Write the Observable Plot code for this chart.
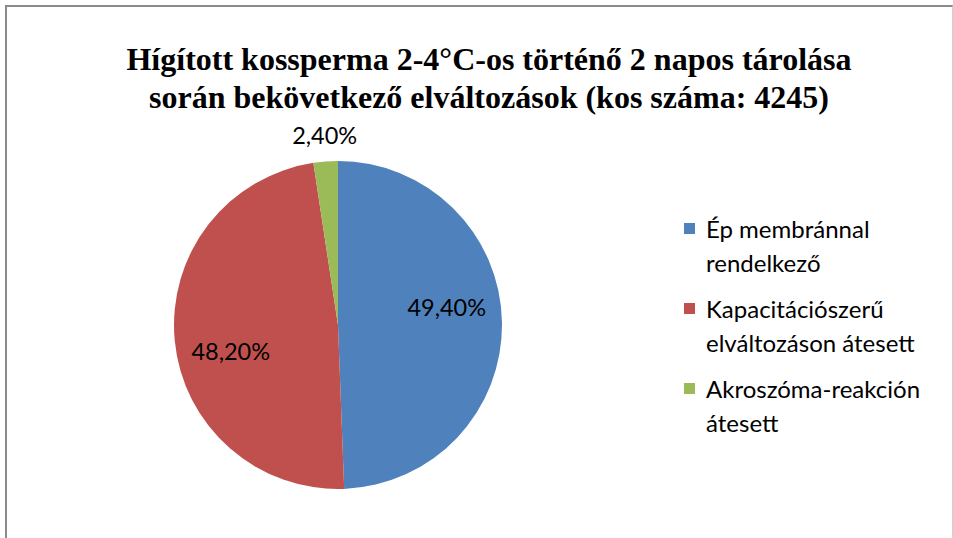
<!DOCTYPE html>
<html><head><meta charset="utf-8">
<script src="https://cdn.jsdelivr.net/npm/d3@7"></script>
<script src="https://cdn.jsdelivr.net/npm/@observablehq/plot@0.6"></script>
<style>
body{margin:0;background:#fff;}
#wrap{position:relative;width:953px;height:538px;overflow:hidden;background:#fff;}
#frame{position:absolute;left:5px;top:5px;width:948px;height:560px;border-left:2px solid #8a8a8a;border-top:2px solid #8a8a8a;border-right:1px solid #d0d0d0;box-sizing:border-box;}
#chart{position:absolute;left:0;top:0;}
#title{position:absolute;left:0;width:978px;top:40px;text-align:center;font-family:"Liberation Serif",serif;font-weight:bold;font-size:32px;line-height:38px;color:#000;}
#legend{position:absolute;left:684px;top:212px;font-family:Lato,sans-serif;font-size:24px;color:#000;}
.item{position:relative;padding-left:22px;line-height:34px;margin-bottom:12px;}
.sw{position:absolute;left:0;top:11px;width:11px;height:11px;}
</style>
</head><body>
<div id="wrap">
  <div id="frame"></div>
  <div id="chart"></div>
  <div id="title"></div>
  <div id="legend"></div>
</div>
<script>
const titleLines = ["Hígított kossperma 2-4°C-os történő 2 napos tárolása", "során bekövetkező elváltozások (kos száma: 4245)"];
const categories = ["Ép membránnal rendelkező", "Kapacitációszerű elváltozáson átesett", "Akroszóma-reakción átesett"];
const legendLines = [["Ép membránnal", "rendelkező"], ["Kapacitációszerű", "elváltozáson átesett"], ["Akroszóma-reakción", "átesett"]];
const values = [49.4, 48.2, 2.4];
const valueLabels = ["49,40%", "48,20%", "2,40%"];
const colors = ["#4F81BD", "#C0504D", "#9BBB59"];

// layout (not data)
const labelRadius = [0.66, 0.66, 1.12];
const labelNudge = [-15, 17, -6];

const data = categories.map((c, i) => ({category: c, value: values[i], label: valueLabels[i]}));
const arcs = d3.pie().sort(null).value(d => d.value)(data);
const labelData = arcs.map((a, i) => {
  const m = (a.startAngle + a.endAngle) / 2;
  return {label: a.data.label, x: Math.sin(m) * labelRadius[i], y: -Math.cos(m) * labelRadius[i], dy: labelNudge[i]};
});

function pieMark(index, scales) {
  const cx = scales.x(0), cy = scales.y(0);
  const r = scales.x(1) - scales.x(0);
  const arc = d3.arc().innerRadius(0).outerRadius(r);
  const g = d3.create("svg:g").attr("transform", `translate(${cx},${cy})`);
  g.selectAll("path").data(arcs).join("path")
    .attr("d", arc)
    .attr("fill", d => scales.color(d.data.category))
    .attr("stroke", "none");
  return g.node();
}

const plot = Plot.plot({
  width: 953,
  height: 538,
  margin: 0,
  x: {domain: [-1, 1], range: [174, 502], axis: null},
  y: {domain: [-1, 1], range: [161, 489], axis: null},
  color: {domain: categories, range: colors},
  style: {background: "transparent", overflow: "visible"},
  marks: [
    pieMark,
    ...labelData.map(d => Plot.text([d], {x: "x", y: "y", text: "label", dy: d.dy, fontSize: 23.5, fontFamily: "Lato, sans-serif", fill: "#000"}))
  ]
});
document.getElementById("chart").appendChild(plot);

document.getElementById("title").innerHTML = titleLines.join("<br>");
const colorScale = Plot.scale({color: {domain: categories, range: colors}});
const leg = document.getElementById("legend");
legendLines.forEach((lines, i) => {
  const it = document.createElement("div");
  it.className = "item";
  it.innerHTML = `<div class="sw" style="background:${colorScale.apply(categories[i])}"></div>` + lines.join("<br>");
  leg.appendChild(it);
});
</script>
</body></html>
